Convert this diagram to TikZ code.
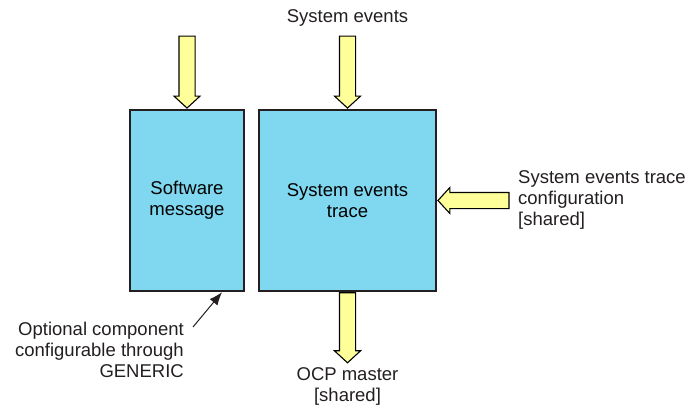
\documentclass[tikz,border=0pt]{standalone}
\usepackage{fontspec}
\setmainfont{Liberation Sans}
\usetikzlibrary{shapes.arrows,arrows.meta}
\definecolor{boxcyan}{HTML}{80D8F0}
\definecolor{pale}{HTML}{FFFF99}
\definecolor{ink}{HTML}{231F20}
\tikzset{
  block/.style={draw=ink, line width=2.4pt, fill=boxcyan, inner sep=0pt, align=center},
  fatarrow/.style={single arrow, draw=black, line width=1.1pt, fill=pale, inner xsep=0pt,
    inner ysep=7.5pt, single arrow head extend=5pt, single arrow tip angle=95},
  caption/.style={text=ink, inner sep=0pt}
}
\begin{document}
\begin{tikzpicture}[x=1pt, y=-1pt, font=\fontsize{18.5}{21}\selectfont]
                    \useasboundingbox (0,0) rectangle (691,405);
                    % Blocks
                    \node[block, minimum width=114pt, minimum height=181pt] (sw) at (187,200.5) {Software\\message};
                    \node[block, minimum width=177pt, minimum height=181pt] (set) at (347.5,200.5) {System events\\trace};
                    % Inputs from above
                    \node[fatarrow, minimum height=72pt, rotate=-90, anchor=tip] (swin) at (sw.north) {};
                    \node[fatarrow, minimum height=72pt, rotate=-90, anchor=tip] (setin) at (set.north) {};
                    \node[caption, anchor=south] (evts) at ([yshift=9pt]setin.tail) {System events};
                    % Configuration input
                    \node[fatarrow, minimum height=71pt, rotate=180, anchor=tip] (cfgin) at (set.east) {};
                    \node[caption, anchor=west, align=left] (cfg) at (518,200) {System events trace\\configuration\\{}[shared]};
                    % Master output
                    \node[fatarrow, minimum height=70pt, rotate=-90, anchor=tail] (ocpout) at (set.south) {};
                    \node[caption, anchor=north, align=center] (ocp) at ([yshift=-4pt]ocpout.tip) {OCP master\\{}[shared]};
                    % Note
                    \node[caption, anchor=east, align=right] (opt) at (184,350) {Optional component\\configurable through\\GENERIC};
                    \coordinate (opttail) at (193,327);
                    \draw[-{Latex[length=13pt,width=10pt]}, line width=1pt, ink] (opttail) -- ([xshift=35pt]sw.south);
                \end{tikzpicture}
\end{document}
